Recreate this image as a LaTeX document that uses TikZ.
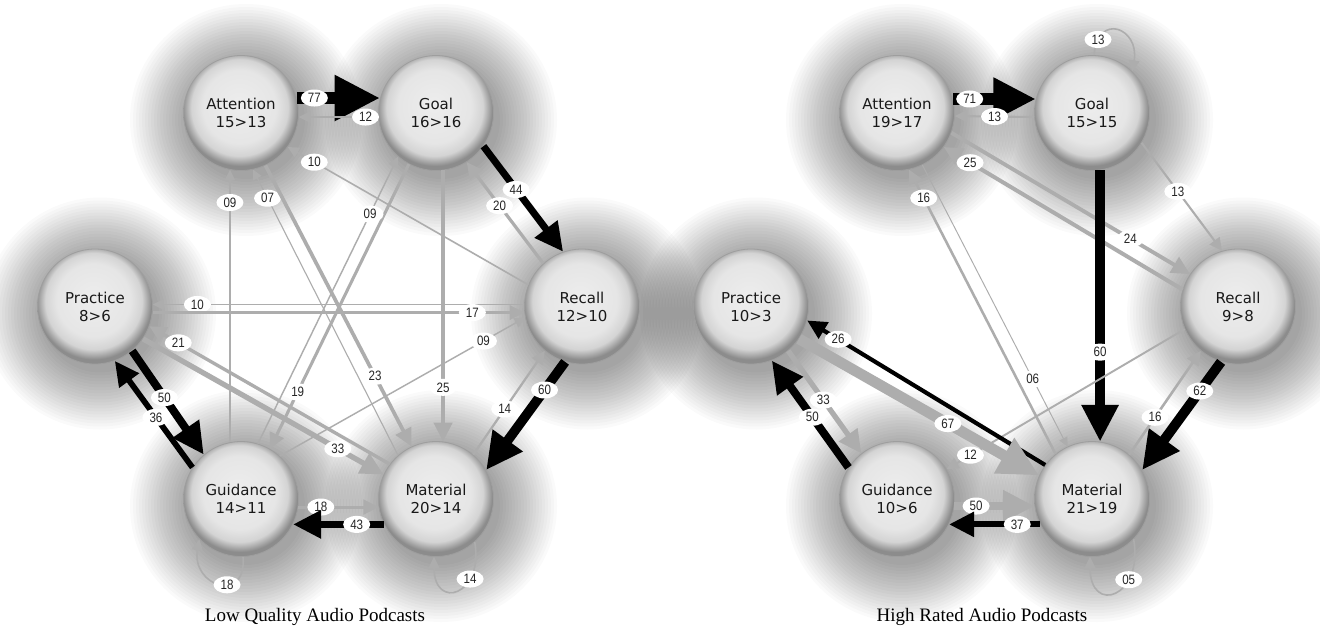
\documentclass[tikz,border=0pt]{standalone}
\usepackage{fontspec}
\usetikzlibrary{positioning,arrows.meta,shapes.geometric,backgrounds}
\newfontfamily\nodefont{DejaVu Sans}
\newfontfamily\numfont[FakeStretch=0.85]{Liberation Sans}
\newfontfamily\capfont{Liberation Serif}
\pgfdeclareradialshading{bubble}{\pgfpoint{-1bp}{4bp}}{color(0bp)=(black!7); color(16bp)=(black!10); color(21bp)=(black!17); color(25bp)=(black!45); color(50bp)=(black!45)}

\begin{document}
\begin{tikzpicture}[x=0.5pt,y=0.5pt,on grid,
	concept/.style={circle,minimum size=57.5pt,inner sep=0pt,shade,shading=bubble,draw=black!38,line width=0.4pt,
		align=center,font=\nodefont\fontsize{7.5}{9}\selectfont,text=black!90},
	num/.style={ellipse,fill=white,inner sep=0pt,minimum width=13.5pt,minimum height=8.5pt,
		font=\numfont\fontsize{6.8}{7}\selectfont,text=black!85},
	blk/.style={draw=black,line width=#1*0.08pt,-{Triangle[length=3pt 3.2,width=3pt 3]}},
	gry/.style={draw=black!32,line width=#1*0.08pt,-{Triangle[length=3pt 3.2,width=3pt 3]}},
	caption/.style={font=\capfont\fontsize{9.5}{11}\selectfont}]
	\useasboundingbox (0,0) rectangle (1320,628);

	% low quality
	\node[concept] (attL) at (241,515) {Attention\\15>13};
	\node[concept] (goalL) [right=97.5pt of attL] {Goal\\16>16};
	\node[concept] (pracL) [below left=96.75pt and 73pt of attL] {Practice\\8>6};
	\node[concept] (recL) [below right=96.75pt and 73pt of goalL] {Recall\\12>10};
	\node[concept] (guidL) [below=193pt of attL] {Guidance\\14>11};
	\node[concept] (matL) [below=193pt of goalL] {Material\\20>14};
	\node[caption] (capL) at (315,11) {Low Quality Audio Podcasts};

	% high rated
	\node[concept] (attR) at (897,515) {Attention\\19>17};
	\node[concept] (goalR) [right=97.5pt of attR] {Goal\\15>15};
	\node[concept] (pracR) [below left=96.75pt and 73pt of attR] {Practice\\10>3};
	\node[concept] (recR) [below right=96.75pt and 73pt of goalR] {Recall\\9>8};
	\node[concept] (guidR) [below=193pt of attR] {Guidance\\10>6};
	\node[concept] (matR) [below=193pt of goalR] {Material\\21>19};
	\node[caption] (capR) at (982,11) {High Rated Audio Podcasts};

	% soft shadows
	\begin{scope}[on background layer]
		\fill[white] (0,0) rectangle (1320,628);
		\foreach \n in {attL,goalL,pracL,recL,guidL,matL,attR,goalR,pracR,recR,guidR,matR}
			\foreach \k in {1,...,20}
				\fill[black,opacity=0.021] ([shift={(5,-7)}]\n.center) circle ({56+3*\k});
	\end{scope}

	\path
	(attL.15) edge[blk=77] node[num,pos=.21] {77} (goalL.165)
	(goalL.184) edge[gry=12] node[num,pos=.16] {12} (attL.-4)
	(goalL.-35) edge[blk=44] node[num,pos=.41] {44} (recL.109)
	(recL.132) edge[gry=20] node[num,pos=.57] {20} (goalL.-58)
	(recL.158) edge[gry=10] node[num,pos=.89] {10} (attL.-36)
	(recL.178) edge[gry=10] node[num,pos=.88] {10} (pracL.2)
	(pracL.-6) edge[gry=17] node[num,pos=.86] {17} (recL.186)
	(pracL.-34) edge[gry=33] node[num,pos=.81] {33} (matL.155)
	(matL.143) edge[gry=21] node[num,pos=.88] {21} (pracL.-20)
	(pracL.-50) edge[blk=50] node[num,pos=.45] {50} (guidL.130)
	(guidL.147) edge[blk=36] node[num,pos=.47] {36} (pracL.-70)
	(guidL.-8) edge[gry=18] node[num,pos=.28] {18} (matL.188)
	(matL.-154) edge[blk=43] node[num,pos=.3] {43} (guidL.-26)
	(guidL.101) edge[gry=9] node[num,pos=.88] {09} (attL.-101)
	(matL.131) edge[gry=7] node[num,pos=.9] {07} (attL.-78)
	(attL.-65) edge[gry=23] node[num,pos=.75] {23} (matL.115)
	(goalL.-118) edge[gry=19] node[num,pos=.8] {19} (guidL.60)
	(guidL.73) edge[gry=9] node[num,pos=.8] {09} (goalL.-131)
	(goalL.-83) edge[gry=25] node[num,pos=.8] {25} (matL.83)
	(guidL.48) edge[gry=9] node[num,pos=.83] {09} (recL.191)
	(matL.50) edge[gry=14] node[num,pos=.44] {14} (recL.-130)
	(recL.-107) edge[blk=60] node[num,pos=.26] {60} (matL.30)
	(guidL.-88) edge[gry=10,out=-85,in=-100,looseness=2.6] node[num,pos=.4] {18} (guidL.-136)
	(matL.-48) edge[gry=10,out=-80,in=-90,looseness=3.2] node[num,pos=.3] {14} (matL.-92)
	;

	\path
	(attR.14) edge[blk=71] node[num,pos=.2] {71} (goalR.166)
	(goalR.184) edge[gry=13] node[num,pos=.5] {13} (attR.-3)
	(goalR.88) edge[gry=10,out=85,in=80,looseness=2.7] node[num,pos=.15] {13} (goalR.46)
	(goalR.-31) edge[gry=13] node[num,pos=.45] {13} (recR.106)
	(attR.-20) edge[gry=24] node[num,pos=.75] {24} (recR.146)
	(recR.163) edge[gry=25] node[num,pos=.89] {25} (attR.-36)
	(matR.129) edge[gry=16] node[num,pos=.9] {16} (attR.-78)
	(attR.-64) edge[gry=6] node[num,pos=.76] {06} (matR.115)
	(goalR.-82) edge[blk=60] node[num,pos=.67] {60} (matR.82)
	(recR.-107) edge[blk=62] node[num,pos=.27] {62} (matR.30)
	(matR.50) edge[gry=16] node[num,pos=.36] {16} (recR.-130)
	(recR.203) edge[gry=12] node[num,pos=.9] {12} (guidR.31)
	(matR.144) edge[blk=26] node[num,pos=.87] {26} (pracR.-14)
	(pracR.-34) edge[gry=67] node[num,pos=.62] {67} (matR.156)
	(pracR.-50) edge[gry=33] node[num,pos=.48] {33} (guidR.128)
	(guidR.147) edge[blk=50] node[num,pos=.47] {50} (pracR.-69)
	(guidR.-7) edge[gry=50] node[num,pos=.27] {50} (matR.187)
	(matR.-154) edge[blk=37] node[num,pos=.25] {37} (guidR.-26)
	(matR.-44) edge[gry=10,out=-80,in=-90,looseness=3.2] node[num,pos=.3] {05} (matR.-92)
	;
\end{tikzpicture}
\end{document}
